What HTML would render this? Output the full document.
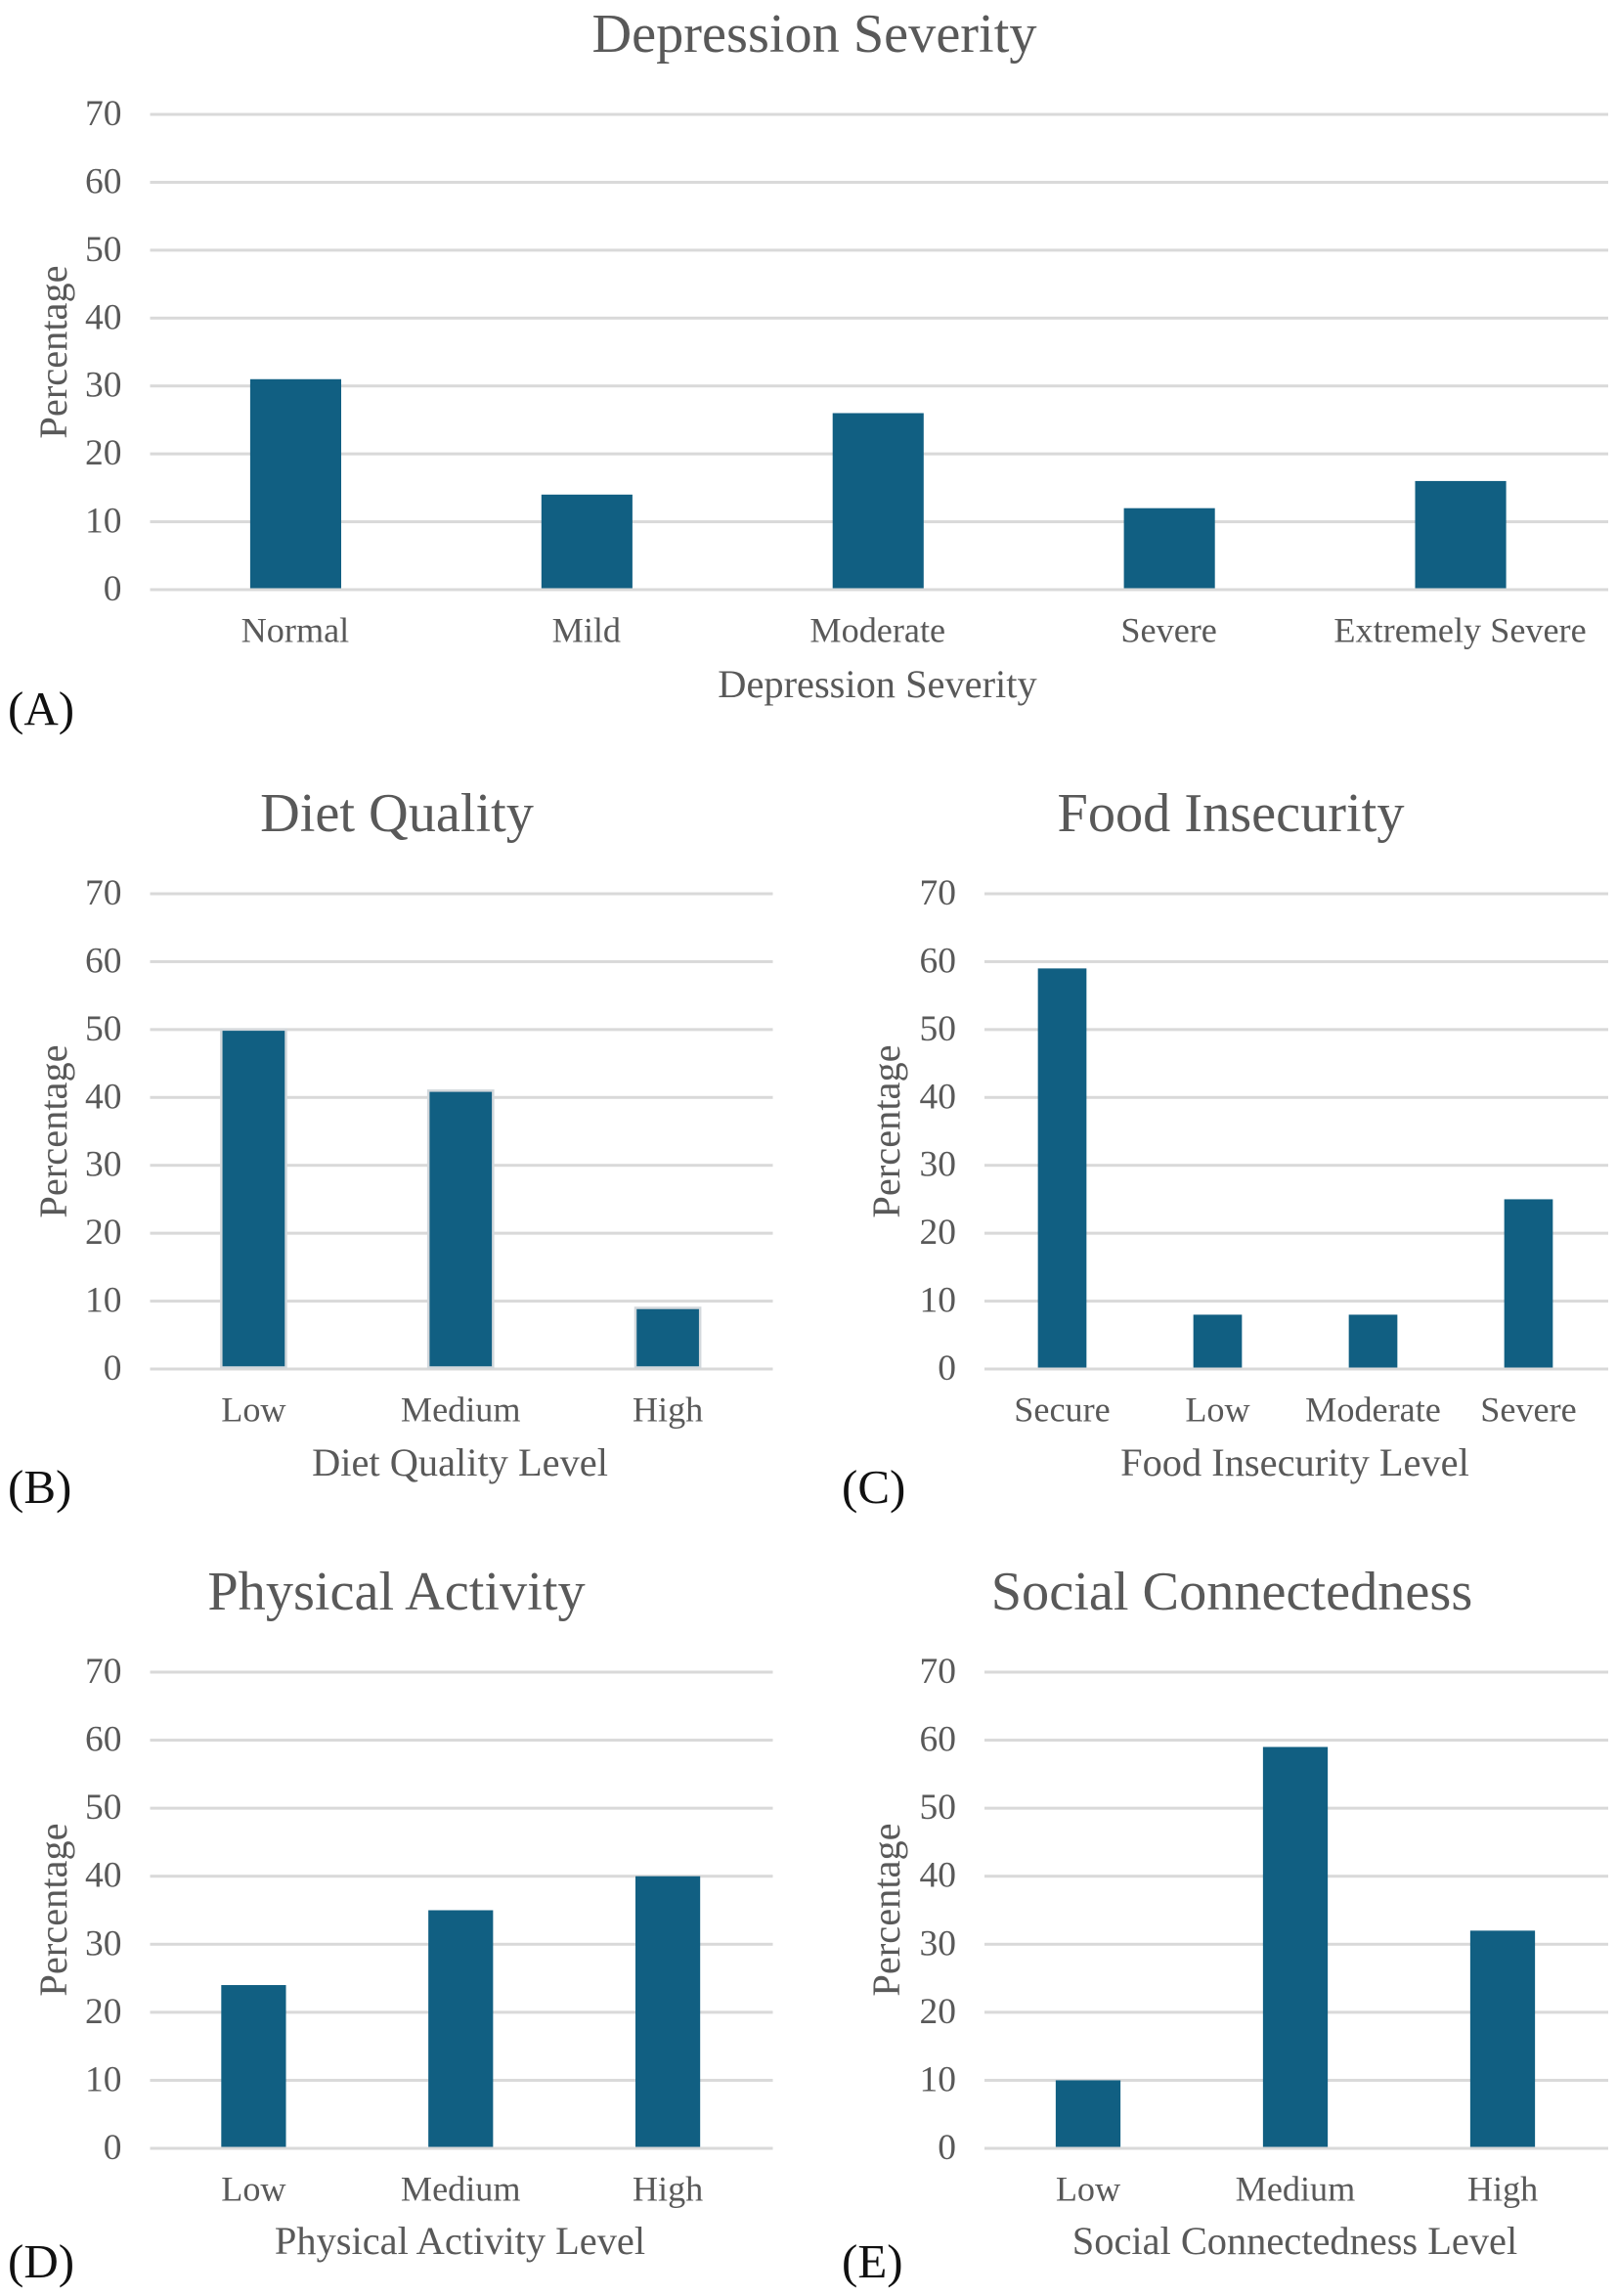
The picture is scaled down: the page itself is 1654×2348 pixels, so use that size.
<!DOCTYPE html>
<html lang="en">
<head>
<meta charset="utf-8">
<title>Health and wellbeing distributions</title>
<style>
html,body{margin:0;padding:0;background:#fff;}
svg{display:block;}
text{font-family:"Liberation Serif",serif;fill:#595959;}
.chart-title{font-size:56.3px;text-anchor:middle;}
.axis-title{font-size:40.4px;text-anchor:middle;}
.panel-label{font-size:49px;fill:#111;}
.tick{font-size:36.2px;}
.y-tick{font-size:37.5px;}
</style>
</head>
<body>
<svg id="figure" xmlns="http://www.w3.org/2000/svg" width="1654" height="2348" viewBox="0 0 1654 2348">
  <rect width="1654" height="2348" fill="#fff"/>

  <g id="chart-a"></g>
  <text class="chart-title" x="833" y="53">Depression Severity</text>
  <text class="axis-title" x="897.5" y="713">Depression Severity</text>
  <text class="axis-title" transform="translate(68 360) rotate(-90)">Percentage</text>
  <text class="panel-label" x="8" y="741">(A)</text>

  <g id="chart-b"></g>
  <text class="chart-title" x="406" y="850">Diet Quality</text>
  <text class="axis-title" x="470.5" y="1509">Diet Quality Level</text>
  <text class="axis-title" transform="translate(68 1157) rotate(-90)">Percentage</text>
  <text class="panel-label" x="8" y="1537">(B)</text>

  <g id="chart-c"></g>
  <text class="chart-title" x="1259" y="850">Food Insecurity</text>
  <text class="axis-title" x="1324.5" y="1509">Food Insecurity Level</text>
  <text class="axis-title" transform="translate(920 1157) rotate(-90)">Percentage</text>
  <text class="panel-label" x="861" y="1537">(C)</text>

  <g id="chart-d"></g>
  <text class="chart-title" x="405.5" y="1646">Physical Activity</text>
  <text class="axis-title" x="470.5" y="2305">Physical Activity Level</text>
  <text class="axis-title" transform="translate(68 1953) rotate(-90)">Percentage</text>
  <text class="panel-label" x="8" y="2329">(D)</text>

  <g id="chart-e"></g>
  <text class="chart-title" x="1260" y="1646">Social Connectedness</text>
  <text class="axis-title" x="1324.5" y="2305">Social Connectedness Level</text>
  <text class="axis-title" transform="translate(920 1953) rotate(-90)">Percentage</text>
  <text class="panel-label" x="861" y="2329">(E)</text>
</svg>

<script>
// Chart data
const yTickLabels = [0, 10, 20, 30, 40, 50, 60, 70];

const depressionCategories = ["Normal", "Mild", "Moderate", "Severe", "Extremely Severe"];
const depressionValues = [31, 14, 26, 12, 16];

const dietCategories = ["Low", "Medium", "High"];
const dietValues = [50, 41, 9];

const foodCategories = ["Secure", "Low", "Moderate", "Severe"];
const foodValues = [59, 8, 8, 25];

const activityCategories = ["Low", "Medium", "High"];
const activityValues = [24, 35, 40];

const socialCategories = ["Low", "Medium", "High"];
const socialValues = [10, 59, 32];

const SVG_NS = "http://www.w3.org/2000/svg";
const Y_MAX = 70;
const BAR_FRACTION = 0.3125;

function make(parent, tag, props) {
  const node = document.createElementNS(SVG_NS, tag);
  Object.keys(props).forEach(function (key) { node.setAttribute(key, props[key]); });
  parent.appendChild(node);
  return node;
}

function drawChart(groupId, prefix, categories, values, box, outlined) {
  const group = document.getElementById(groupId);
  const yScale = function (v) { return box.bottom - (v / Y_MAX) * (box.bottom - box.top); };
  const band = (box.right - box.left) / categories.length;
  const xCenter = function (i) { return box.left + band * (i + 0.5); };
  const barWidth = band * BAR_FRACTION;

  yTickLabels.forEach(function (t) {
    const line = make(group, "rect", {
      x: box.left, y: yScale(t) - 1.5, width: box.gridRight - box.left, height: 3, fill: "#d9d9d9"
    });
    
    

    const label = make(group, "text", {
      class: "y-tick", x: box.left - 29, y: yScale(t) + 11, "text-anchor": "end"
    });
    label.textContent = String(t);
    
    
  });

  categories.forEach(function (c, i) {
    const top = yScale(values[i]);
    const bar = make(group, "rect", {
      x: xCenter(i) - barWidth / 2, y: top, width: barWidth, height: box.bottom - 1.5 - top, fill: "#115f82"
    });
    if (outlined) {
      bar.setAttribute("stroke", "#d3d8dc");
      bar.setAttribute("stroke-width", "2.5");
    }
    
    

    const label = make(group, "text", {
      class: "tick", x: xCenter(i) + box.labelShift, y: box.bottom + 53.5, "text-anchor": "middle"
    });
    label.textContent = c;
    
    
  });
}

drawChart("chart-a", "depression", depressionCategories, depressionValues, {left: 153.5, right: 1643, gridRight: 1645, labelShift: -0.5, top: 117, bottom: 603}, false);
drawChart("chart-b", "diet", dietCategories, dietValues, {left: 153.5, right: 789, gridRight: 790.5, labelShift: 0, top: 914, bottom: 1400}, true);
drawChart("chart-c", "food", foodCategories, foodValues, {left: 1007, right: 1643, gridRight: 1645, labelShift: 0, top: 914, bottom: 1400}, false);
drawChart("chart-d", "activity", activityCategories, activityValues, {left: 153.5, right: 789, gridRight: 790.5, labelShift: 0, top: 1710, bottom: 2197}, false);
drawChart("chart-e", "social", socialCategories, socialValues, {left: 1007, right: 1643, gridRight: 1645, labelShift: 0, top: 1710, bottom: 2197}, false);
</script>
</body>
</html>
